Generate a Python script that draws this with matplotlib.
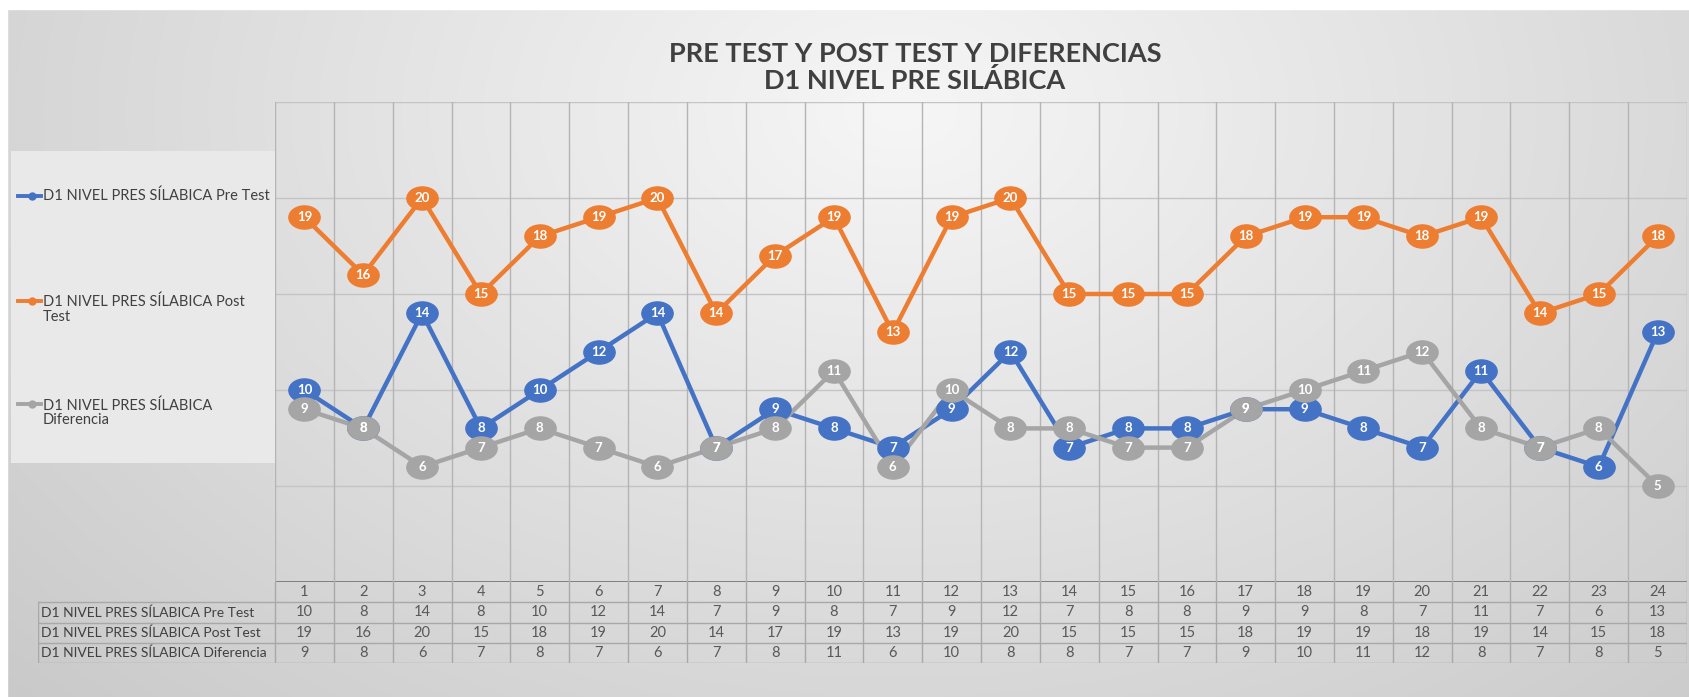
import numpy as np
import matplotlib
matplotlib.use("Agg")
import matplotlib.pyplot as plt
from matplotlib.path import Path
from matplotlib.patches import Rectangle
from matplotlib.lines import Line2D

# ---------------- data ----------------
categories = [str(i) for i in range(1, 25)]
pre_test = [10, 8, 14, 8, 10, 12, 14, 7, 9, 8, 7, 9, 12, 7, 8, 8, 9, 9, 8, 7, 11, 7, 6, 13]
post_test = [19, 16, 20, 15, 18, 19, 20, 14, 17, 19, 13, 19, 20, 15, 15, 15, 18, 19, 19, 18, 19, 14, 15, 18]
diferencia = [9, 8, 6, 7, 8, 7, 6, 7, 8, 11, 6, 10, 8, 8, 7, 7, 9, 10, 11, 12, 8, 7, 8, 5]
series_names = ["D1 NIVEL PRES SÍLABICA Pre Test",
                "D1 NIVEL PRES SÍLABICA Post Test",
                "D1 NIVEL PRES SÍLABICA Diferencia"]
legend_labels = ["D1 NIVEL PRES SÍLABICA Pre Test",
                 "D1 NIVEL PRES SÍLABICA Post\nTest",
                 "D1 NIVEL PRES SÍLABICA\nDiferencia"]
title_text = "PRE TEST Y POST TEST Y DIFERENCIAS\nD1 NIVEL PRE SILÁBICA"
colors = ["#4472C4", "#ED7D31", "#A5A5A5"]
series = [pre_test, post_test, diferencia]

plt.rcParams['font.family'] = ['Lato', 'DejaVu Sans']

W, H = 1689, 697
fig = plt.figure(figsize=(W / 100, H / 100), dpi=100)


def rect(l, t, r, b):
    return [l / W, 1 - b / H, (r - l) / W, (b - t) / H]


# ---------------- background ----------------
bg = fig.add_axes([0, 0, 1, 1])
bg.set_axis_off()
bg.set_xlim(0, W)
bg.set_ylim(H, 0)
yy, xx = np.mgrid[0:H:2, 0:W:2]
d = np.sqrt(((xx - 900) / 950.0) ** 2 + ((yy - 110) / 650.0) ** 2)
v = 0.965 - 0.135 * np.clip(d, 0, 1.3)
img = np.dstack([v, v, v])
bg.imshow(img, extent=[0, W, H, 0], aspect='auto', interpolation='bilinear', zorder=0)
bg.add_patch(Rectangle((0, 0), W, 9, color='white', zorder=1))
bg.add_patch(Rectangle((0, 0), 7, H, color='white', zorder=1))

# legend box
bg.add_patch(Rectangle((11, 151), 264, 312, facecolor='#e9e9e9', edgecolor='none', zorder=1))
leg_y = [196, 301, 404]
for lab, c, y in zip(legend_labels, colors, leg_y):
    bg.add_line(Line2D([18, 41], [y, y], color=c, lw=2.8, zorder=2))
    bg.add_line(Line2D([32], [y], marker='o', ms=5, color=c, zorder=3))
    if '\n' in lab:
        bg.text(43, y - 6, lab, ha='left', va='top', fontsize=10.5,
                color='#404040', zorder=3, linespacing=1.05)
    else:
        bg.text(43, y, lab, ha='left', va='center', fontsize=10.5,
                color='#404040', zorder=3)

# title
fig.text(915 / W, 1 - 67.5 / H, title_text, ha='center', va='center',
         fontsize=19.5, fontweight='bold', color='#404040', linespacing=1.12)

# ---------------- main plot ----------------
L, R, T, B = 275, 1687, 102, 582
ax = fig.add_axes(rect(L, T, R, B))
ax.patch.set_alpha(0)
n = len(categories)
x = np.arange(1, n + 1)
ax.set_xlim(0.5, n + 0.5)
ax.set_ylim(0, 25)
for s in ax.spines.values():
    s.set_visible(False)
ax.set_xticks([])
ax.set_yticks([])
for yv in [5, 10, 15, 20, 25]:
    ax.axhline(yv, color='#c4c4c4', lw=1.0, zorder=1)
ax.axhline(0, color='#7f7f7f', lw=1.4, zorder=1)
for xv in np.arange(0.5, n + 1.0, 1):
    ax.axvline(xv, color='#b4b4b4', lw=1.0, zorder=1)

ell = Path.unit_circle()
ell = Path(ell.vertices * np.array([1.0, 0.74]), ell.codes)

for i, (vals, c) in enumerate(zip(series, colors)):
    ax.plot(x, vals, color=c, lw=3.2, zorder=3 + i, solid_capstyle='round')
for i, (vals, c) in enumerate(zip(series, colors)):
    ax.plot(x, vals, ls='none', marker=ell, ms=22.5, mfc=c, mec=c, zorder=6 + i)
    for xi, v_ in zip(x, vals):
        ax.text(xi, v_, str(v_), ha='center', va='center', color='white',
                fontsize=9.5, fontweight='bold', zorder=10)

# ---------------- data table ----------------
TB = 663
colw = (R - L) / n
lab_w = (L - 38) / colw
tax = fig.add_axes(rect(38, B, R, TB))
tax.set_axis_off()
tax.patch.set_alpha(0)
tax.set_xlim(0.5 - lab_w, n + 0.5)
tax.set_ylim(4, 0)
gc = '#a8a8a8'
for xv in np.arange(0.5, n + 1.0, 1):
    tax.plot([xv, xv], [0, 4], color=gc, lw=1.0)
for yv in [1, 2, 3, 4]:
    tax.plot([0.5 - lab_w, n + 0.5], [yv, yv], color=gc, lw=1.0)
tax.plot([0.5 - lab_w, 0.5 - lab_w], [1, 4], color=gc, lw=1.0)
for xi, cat in zip(x, categories):
    tax.text(xi, 0.5, cat, ha='center', va='center', fontsize=10.5, color='#595959')
for r, (name, vals) in enumerate(zip(series_names, series), start=1):
    tax.text(0.5 - lab_w + 0.05, r + 0.5, name, ha='left', va='center',
             fontsize=10.0, color='#404040')
    for xi, v_ in zip(x, vals):
        tax.text(xi, r + 0.5, str(v_), ha='center', va='center', fontsize=10.5, color='#595959')

fig.savefig('out.png', dpi=100)
